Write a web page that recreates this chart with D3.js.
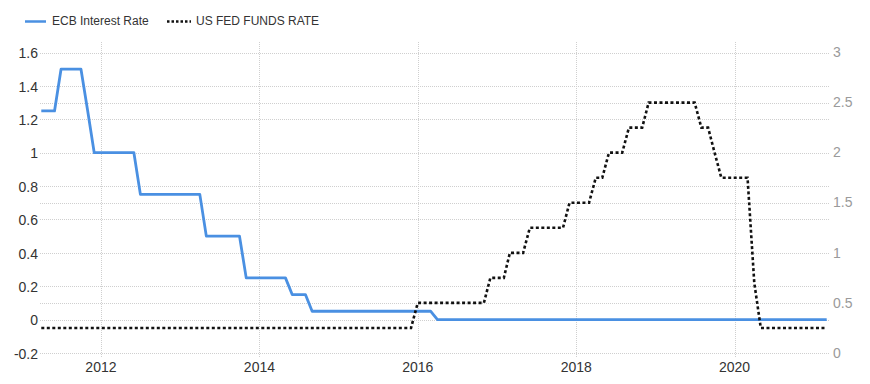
<!DOCTYPE html>
<html>
<head>
<meta charset="utf-8">
<script src="https://cdn.jsdelivr.net/npm/d3@7"></script>
<style>
  body { margin: 0; background: #fff; }
  svg { display: block; font-family: "Liberation Sans", Arial, sans-serif; }
</style>
</head>
<body>
<div id="chart"></div>
<script>
// ECB main refinancing rate, monthly points where the line turns (left axis)
const ecbDates = ['2011-04', '2011-06', '2011-07', '2011-10', '2011-11', '2011-12', '2012-06', '2012-07',
    '2013-04', '2013-05', '2013-10', '2013-11', '2014-05', '2014-06', '2014-08', '2014-09',
    '2016-03', '2016-04', '2021-03'];
const ecbValues = [1.25, 1.25, 1.5, 1.5, 1.25, 1.0, 1.0, 0.75,
    0.75, 0.5, 0.5, 0.25, 0.25, 0.15, 0.15, 0.05,
    0.05, 0, 0];

// US fed funds rate (right axis)
const fedDates = ['2011-04', '2015-12', '2016-01', '2016-11', '2016-12', '2017-02', '2017-03', '2017-05',
    '2017-06', '2017-11', '2017-12', '2018-03', '2018-04', '2018-05', '2018-06', '2018-08',
    '2018-09', '2018-11', '2018-12', '2019-07', '2019-08', '2019-09', '2019-10', '2019-11',
    '2020-03', '2020-04', '2020-05', '2021-03'];
const fedValues = [0.25, 0.25, 0.5, 0.5, 0.75, 0.75, 1.0, 1.0,
    1.25, 1.25, 1.5, 1.5, 1.75, 1.75, 2.0, 2.0,
    2.25, 2.25, 2.5, 2.5, 2.25, 2.25, 2.0, 1.75,
    1.75, 0.7, 0.25, 0.25];

const leftTicks = [-0.2, 0, 0.2, 0.4, 0.6, 0.8, 1, 1.2, 1.4, 1.6];
const rightTicks = [0, 0.5, 1, 1.5, 2, 2.5, 3];
const yearTicks = [2012, 2014, 2016, 2018, 2020];

const legendItems = ['ECB Interest Rate', 'US FED FUNDS RATE'];

let w = 870,
    h = 384;

let parse = d3.timeParse('%Y-%m');

let ecb = ecbDates.map((d, i) => ({ date: parse(d), value: ecbValues[i] }));
let fed = fedDates.map((d, i) => ({ date: parse(d), value: fedValues[i] }));

let svg = d3.select('#chart').append('svg')
    .attr('width', w)
    .attr('height', h);

let plotLeft = 40,
    plotRight = 830,
    plotTop = 52.5,
    plotBottom = 353;

var x = d3.scaleTime()
    .domain([parse('2011-04'), parse('2021-03')])
    .range([41.3, 826.7]);

var yLeft = d3.scaleLinear()
    .domain([-0.2, 1.6])
    .range([plotBottom, plotTop]);

var yRight = d3.scaleLinear()
    .domain([0, 3])
    .range([plotBottom, plotTop]);

// grid
let grid = svg.append('g')
    .attr('stroke', '#cfcfcf')
    .attr('stroke-width', 1)
    .attr('stroke-dasharray', '1,1');

let gridYs = leftTicks.map(yLeft).concat(rightTicks.map(yRight));

grid.selectAll('.hgrid')
    .data(gridYs)
    .enter().append('line')
    .attr('x1', plotLeft)
    .attr('x2', plotRight)
    .attr('y1', d => Math.round(d) + 0.5)
    .attr('y2', d => Math.round(d) + 0.5);

grid.selectAll('.vgrid')
    .data(yearTicks)
    .enter().append('line')
    .attr('x1', d => Math.round(x(new Date(d, 0, 1))) + 0.5)
    .attr('x2', d => Math.round(x(new Date(d, 0, 1))) + 0.5)
    .attr('y1', 42)
    .attr('y2', 357);

// left axis labels
svg.append('g')
    .selectAll('text')
    .data(leftTicks)
    .enter().append('text')
    .attr('x', 38)
    .attr('y', d => yLeft(d) + 2)
    .attr('text-anchor', 'end')
    .attr('dominant-baseline', 'middle')
    .attr('font-size', 14)
    .attr('fill', '#333')
    .text(d => d);

// right axis labels
svg.append('g')
    .selectAll('text')
    .data(rightTicks)
    .enter().append('text')
    .attr('x', 833)
    .attr('y', d => yRight(d) + 1)
    .attr('text-anchor', 'start')
    .attr('dominant-baseline', 'middle')
    .attr('font-size', 14)
    .attr('fill', '#9a9a9a')
    .text(d => d);

// year labels
svg.append('g')
    .selectAll('text')
    .data(yearTicks)
    .enter().append('text')
    .attr('x', d => x(new Date(d, 0, 1)))
    .attr('y', 368)
    .attr('text-anchor', 'middle')
    .attr('dominant-baseline', 'middle')
    .attr('font-size', 14)
    .attr('fill', '#333')
    .text(d => d);

// lines
let ecbLine = d3.line()
    .x(d => x(d.date))
    .y(d => yLeft(d.value));

let fedLine = d3.line()
    .x(d => x(d.date))
    .y(d => yRight(d.value));

svg.append('path')
    .datum(ecb)
    .attr('d', ecbLine)
    .attr('fill', 'none')
    .attr('stroke', '#4a90e2')
    .attr('stroke-width', 2.8)
    .attr('stroke-linejoin', 'round');

svg.append('path')
    .datum(fed)
    .attr('d', fedLine)
    .attr('fill', 'none')
    .attr('stroke', '#111')
    .attr('stroke-width', 2.6)
    .attr('stroke-dasharray', '3,2.5');

// legend
let legend = svg.append('g');

legend.append('line')
    .attr('x1', 25).attr('x2', 46)
    .attr('y1', 21.5).attr('y2', 21.5)
    .attr('stroke', '#4a90e2')
    .attr('stroke-width', 2.5);

legend.append('text')
    .attr('x', 52).attr('y', 22)
    .attr('dominant-baseline', 'middle')
    .attr('font-size', 12)
    .attr('fill', '#333')
    .text(legendItems[0]);

legend.append('line')
    .attr('x1', 167).attr('x2', 191)
    .attr('y1', 21.5).attr('y2', 21.5)
    .attr('stroke', '#111')
    .attr('stroke-width', 2.5)
    .attr('stroke-dasharray', '2.5,2');

legend.append('text')
    .attr('x', 196).attr('y', 22)
    .attr('dominant-baseline', 'middle')
    .attr('font-size', 12)
    .attr('fill', '#333')
    .text(legendItems[1]);
</script>
</body>
</html>
